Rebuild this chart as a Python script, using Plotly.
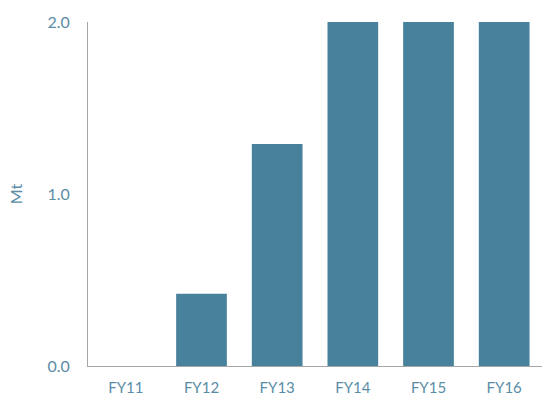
import plotly.graph_objects as go

categories = ["FY11", "FY12", "FY13", "FY14", "FY15", "FY16"]
values = [0.0, 0.42, 1.29, 2.0, 2.0, 2.0]
y_ticks = [0.0, 1.0, 2.0]
y_tick_labels = ["0.0", "1.0", "2.0"]

bar_color = "#47819B"
text_color = "#5A8DA6"

fig = go.Figure(go.Bar(x=categories, y=values, marker=dict(color=bar_color, line=dict(width=0))))

fig.update_layout(
    width=542, height=405,
    margin=dict(l=88, r=0, t=22, b=39),
    plot_bgcolor="white", paper_bgcolor="white",
    bargap=0.33,
    showlegend=False,
    font=dict(family="Lato, Open Sans, sans-serif", size=15, color=text_color),
)
fig.update_xaxes(
    showline=True, linecolor="#A6A6A6", linewidth=1,
    showgrid=False, ticks="", ticklabelstandoff=8,
    tickfont=dict(size=15, color=text_color),
)
fig.update_yaxes(
    range=[0, 2], tickvals=y_ticks, ticktext=y_tick_labels,
    showline=True, linecolor="#A6A6A6", linewidth=1,
    showgrid=False, zeroline=False, ticks="", ticklabelstandoff=14,
    tickfont=dict(size=16, color=text_color),
    title=dict(text="Mt", font=dict(size=16, color=text_color), standoff=20),
)
fig.write_html("out.html")
